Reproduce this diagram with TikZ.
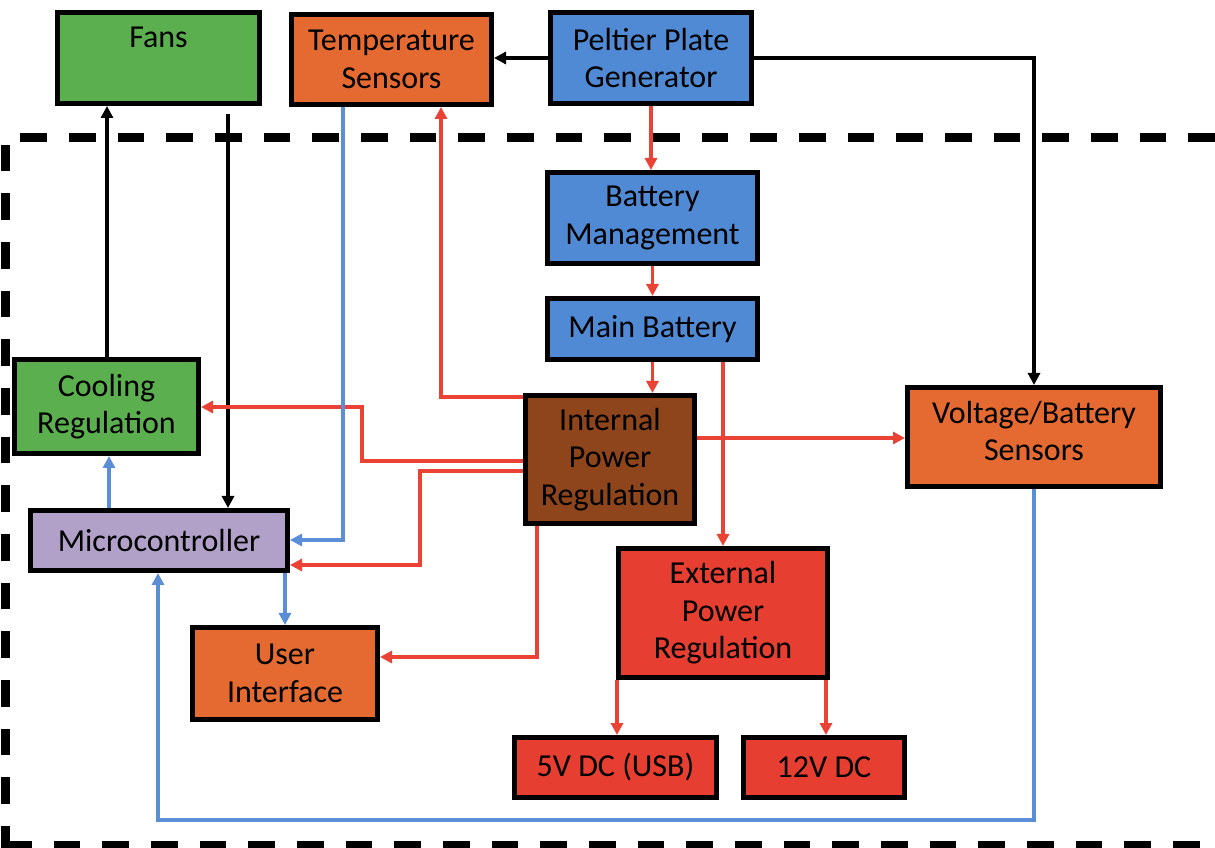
\documentclass[tikz,border=0pt]{standalone}
\usepackage{fontspec}
\setmainfont{Carlito}
\usetikzlibrary{arrows.meta,backgrounds,shadows}
\definecolor{cgreen}{HTML}{5CAF4F}
\definecolor{corange}{HTML}{E46A31}
\definecolor{cblue}{HTML}{508AD4}
\definecolor{cbrown}{HTML}{8E451B}
\definecolor{cpurple}{HTML}{B1A0C8}
\definecolor{cred}{HTML}{E63E31}
\definecolor{lred}{HTML}{EA4335}
\definecolor{lblue}{HTML}{5A8FD8}
\tikzset{
  box/.style={draw=black, line width=3.75pt, inner sep=0pt, align=center,
    font=\fontsize{24}{28.2}\selectfont,
    drop shadow={shadow xshift=1.5pt, shadow yshift=-1.5pt, opacity=0.2, fill=black}},
  conn/.style={line width=2.6pt, -{Triangle[length=9pt,width=9pt]}},
  blk/.style={conn, draw=black},
  redl/.style={conn, draw=lred},
  bluel/.style={conn, draw=lblue},
  frame/.style={line width=6.75pt, dash pattern=on 20pt off 16.5pt}
}
\begin{document}
\begin{tikzpicture}[x=0.75pt,y=-0.75pt]
\useasboundingbox (0,0) rectangle (1215,848);
% boxes
\node[box, fill=cgreen, minimum width=151.5pt, minimum height=68.25pt] (fans) at (158.5,58) {Fans\\[-6pt]\strut};
\node[box, fill=corange, minimum width=150pt, minimum height=67.5pt] (temp) at (391.5,59.5) {Temperature\\Sensors};
\node[box, fill=cblue, minimum width=150.75pt, minimum height=68.25pt] (pelt) at (651,58) {Peltier Plate\\Generator};
\node[box, fill=cblue, minimum width=157.5pt, minimum height=68.25pt] (bm) at (652.5,218) {Battery\\Management};
\node[box, fill=cblue, minimum width=157.5pt, minimum height=45.75pt] (mb) at (652.5,329) {Main Battery};
\node[box, fill=cgreen, minimum width=138pt, minimum height=70.5pt] (cool) at (106.5,406.5) {Cooling\\Regulation};
\node[box, fill=cpurple, minimum width=192.75pt, minimum height=45pt] (mcu) at (159,540.5) {Microcontroller};
\node[box, fill=cbrown, minimum width=126.75pt, minimum height=96pt] (ipr) at (610,459.5) {Internal\\Power\\Regulation};
\node[box, fill=corange, minimum width=189.75pt, minimum height=74.25pt] (vbs) at (1034,437) {Voltage/Battery\\Sensors\\[-19pt]};
\node[box, fill=corange, minimum width=138.75pt, minimum height=69pt] (ui) at (285,673.5) {User\\Interface};
\node[box, fill=cred, minimum width=156.75pt, minimum height=96.75pt] (epr) at (723,613) {External\\Power\\Regulation};
\node[box, fill=cred, minimum width=151.5pt, minimum height=45pt] (usb) at (615.5,767.5) {5V DC (USB)};
\node[box, fill=cred, minimum width=120.75pt, minimum height=45pt] (v12) at (824,767.5) {12V DC};
\coordinate (fanout) at (228,114);
\coordinate (vbsturn) at (158,820);
\begin{scope}[on background layer]
\draw[frame] (1215,138) -- (5,138) -- (5,848);
\draw[frame] (5,845) -- (1215,845);
% black
\draw[blk] (pelt.west) -- (temp.east |- pelt.west);
\draw[blk] (pelt.east) -| (vbs.north);
\draw[blk] (107,0 |- cool.north) -- (107,0 |- fans.south);
\draw[blk] (fanout) -- (fanout |- mcu.north);
% red
\draw[redl] (pelt.south) -- (pelt.south |- bm.north);
\draw[redl] (bm.south) -- (bm.south |- mb.north);
\draw[redl] (mb.south) -- (mb.south |- ipr.north);
\draw[redl] (723,0 |- mb.south) -- (723,0 |- epr.north);
\draw[redl] (ipr.east |- 0,438) -- (vbs.west |- 0,438);
\draw[redl] (ipr.west |- 0,397) -| (441,0 |- temp.south);
\draw[redl] (ipr.west |- 0,461) -| (362,407) -- (cool.east |- 0,407);
\draw[redl] (ipr.west |- 0,471) -| (420,565) -- (mcu.east |- 0,565);
\draw[redl] (537,0 |- ipr.south) |- (ui.east |- 0,657);
\draw[redl] (617,0 |- epr.south) -- (617,0 |- usb.north);
\draw[redl] (826,0 |- epr.south) -- (826,0 |- v12.north);
% blue
\draw[bluel] (343,0 |- temp.south) |- (mcu.east |- 0,540);
\draw[bluel] (109,0 |- mcu.north) -- (109,0 |- cool.south);
\draw[bluel] (285,0 |- mcu.south) -- (285,0 |- ui.north);
\draw[bluel] (vbs.south) |- (vbsturn) -- (vbsturn |- mcu.south);
\end{scope}
\end{tikzpicture}
\end{document}
